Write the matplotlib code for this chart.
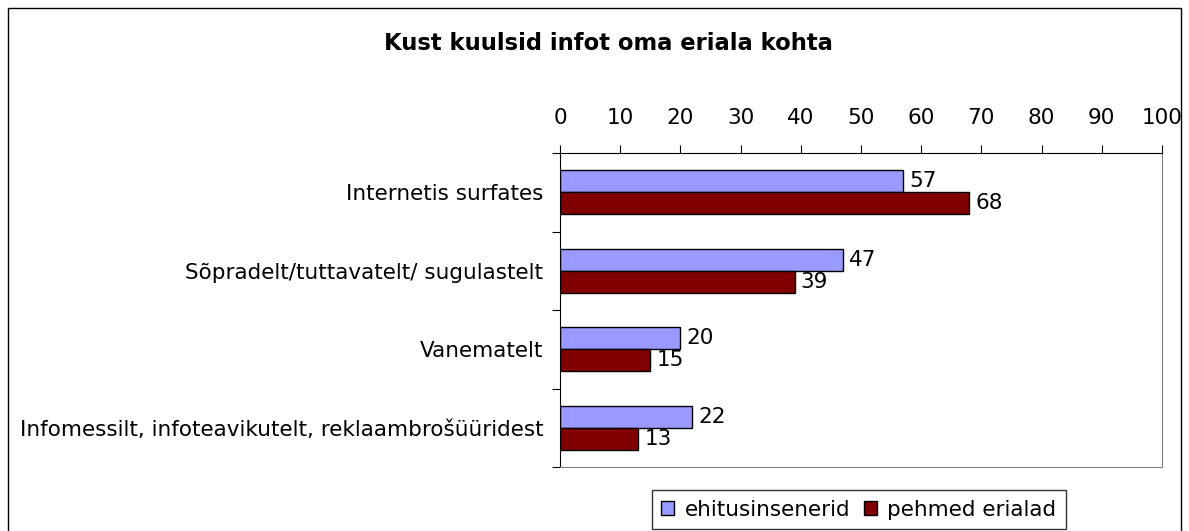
import matplotlib.pyplot as plt
import numpy as np
from matplotlib.patches import Rectangle

plt.rcParams['font.family'] = ['DejaVu Sans']

categories = ['Internetis surfates', 'Sõpradelt/tuttavatelt/ sugulastelt', 'Vanematelt',
              'Infomessilt, infoteavikutelt, reklaambrošüüridest']
ehitus = [57, 47, 20, 22]
pehmed = [68, 39, 15, 13]
series_names = ['ehitusinsenerid', 'pehmed erialad']
colors = ['#9999ff', '#800000']

fs = 15.5
fig = plt.figure(figsize=(11.89, 5.31), dpi=100)
W, H = 1189, 531
ax = fig.add_axes([560 / W, 1 - 467 / H, (1162 - 560) / W, (467 - 153) / H])

y = np.arange(len(categories)) + 0.5
h = 0.28
b1 = ax.barh(y - h / 2, ehitus, height=h, color=colors[0], edgecolor='black', linewidth=1, label=series_names[0])
b2 = ax.barh(y + h / 2, pehmed, height=h, color=colors[1], edgecolor='black', linewidth=1, label=series_names[1])
for bars, vals in ((b1, ehitus), (b2, pehmed)):
    for bar, v in zip(bars, vals):
        ax.text(bar.get_width() + 1.0, bar.get_y() + bar.get_height() / 2, str(v),
                va='center', ha='left', fontsize=fs)

ax.set_xlim(0, 100)
ax.set_ylim(len(categories), 0)
ax.xaxis.tick_top()
ax.set_xticks(range(0, 101, 10))
ax.set_yticks(range(len(categories) + 1))
ax.set_yticklabels([])
ax.set_yticks(y, minor=True)
ax.set_yticklabels(categories, minor=True)
ax.tick_params(axis='y', which='minor', length=0, pad=12, labelsize=fs)
ax.tick_params(axis='y', which='major', length=6, direction='out')
ax.tick_params(axis='x', length=6, direction='out', labelsize=fs, pad=12)
for s in ['left', 'top']:
    ax.spines[s].set_color('black')
for s in ['right', 'bottom']:
    ax.spines[s].set_color('#808080')

fig.text(608 / W, 1 - 50 / H, 'Kust kuulsid infot oma eriala kohta', ha='center', va='baseline',
         fontsize=16.3, fontweight='bold')

leg = fig.legend(handles=[b1, b2], labels=series_names, loc='upper center',
                 bbox_to_anchor=(859 / W, 1 - 490 / H), ncol=2, fontsize=fs,
                 frameon=True, fancybox=False, edgecolor='black', handlelength=0.6,
                 handleheight=0.6, handletextpad=0.5, columnspacing=0.6, borderpad=0.45,
                 borderaxespad=0)
leg.get_frame().set_linewidth(1)

fig.patches.append(Rectangle((8 / W, -0.1), (1181 - 8) / W, 1 - 8 / H + 0.1,
                             transform=fig.transFigure, fill=False, edgecolor='black', linewidth=1))

fig.savefig('out.png', dpi=100)
